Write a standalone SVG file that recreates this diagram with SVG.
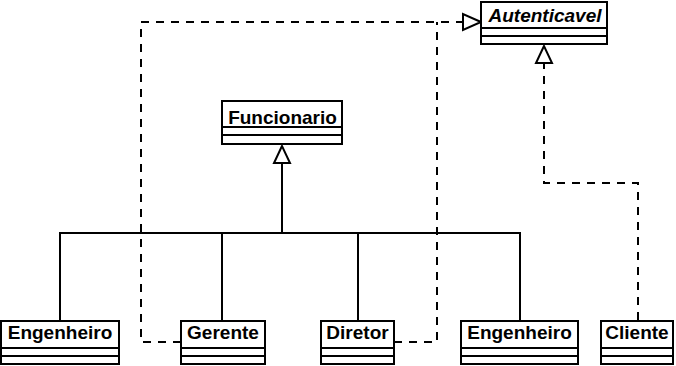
<svg xmlns="http://www.w3.org/2000/svg" width="676" height="366" viewBox="0 0 676 366">
  <style>
    .box { fill: #ffffff; stroke: #000000; stroke-width: 2; }
    .sep { stroke: #000000; stroke-width: 2; fill: none; }
    .lbl { font-family: "Liberation Sans", Arial, sans-serif; font-weight: bold; font-size: 19px; fill: #000000; text-anchor: middle; }
    .it { font-style: italic; }
    .gen { fill: none; stroke: #000000; stroke-width: 2; }
    .real { fill: none; stroke: #000000; stroke-width: 2; stroke-dasharray: 8 7; }
    .head { fill: #ffffff; stroke: #000000; stroke-width: 2; stroke-linejoin: miter; }
  </style>
  <rect width="676" height="366" fill="#ffffff"/>

  <!-- connectors -->
  <g id="connectors">
    <!-- generalization to Funcionario -->
    <polyline class="gen" points="60,320 60,233 520,233 520,320"/>
    <line class="gen" x1="222" y1="233" x2="222" y2="320"/>
    <line class="gen" x1="358" y1="233" x2="358" y2="320"/>
    <line class="gen" x1="282" y1="233" x2="282" y2="163"/>
    <polygon class="head" points="282,146 274,163 290,163"/>

    <!-- realizations of Autenticavel -->
    <polyline class="real" points="181,342 141,342 141,22 463,22"/>
    <polyline class="real" points="394,342 437,342 437,22"/>
    <polygon class="head" points="481,22 463,14 463,30"/>
    <polyline class="real" points="638,320 638,183 544,183 544,63"/>
    <polygon class="head" points="544,46 536,63 552,63"/>
  </g>

  <!-- Autenticavel (interface) -->
  <g id="autenticavel">
    <rect class="box" x="481" y="2" width="126" height="42"/>
    <line class="sep" x1="481" y1="28" x2="607" y2="28"/>
    <line class="sep" x1="481" y1="36" x2="607" y2="36"/>
    <text class="lbl it" x="545" y="22">Autenticavel</text>
  </g>

  <!-- Funcionario -->
  <g id="funcionario">
    <rect class="box" x="222" y="101" width="120" height="43"/>
    <line class="sep" x1="222" y1="127" x2="342" y2="127"/>
    <line class="sep" x1="222" y1="135" x2="342" y2="135"/>
    <text class="lbl" x="282.5" y="124">Funcionario</text>
  </g>

  <!-- Engenheiro (left) -->
  <g id="engenheiro1">
    <rect class="box" x="1" y="321" width="118" height="43"/>
    <line class="sep" x1="1" y1="348" x2="119" y2="348"/>
    <line class="sep" x1="1" y1="356" x2="119" y2="356"/>
    <text class="lbl" x="60" y="339">Engenheiro</text>
  </g>

  <!-- Gerente -->
  <g id="gerente">
    <rect class="box" x="181" y="321" width="84" height="43"/>
    <line class="sep" x1="181" y1="348" x2="265" y2="348"/>
    <line class="sep" x1="181" y1="356" x2="265" y2="356"/>
    <text class="lbl" x="223" y="339">Gerente</text>
  </g>

  <!-- Diretor -->
  <g id="diretor">
    <rect class="box" x="321" y="321" width="73" height="43"/>
    <line class="sep" x1="321" y1="348" x2="394" y2="348"/>
    <line class="sep" x1="321" y1="356" x2="394" y2="356"/>
    <text class="lbl" x="357.5" y="339">Diretor</text>
  </g>

  <!-- Engenheiro (right) -->
  <g id="engenheiro2">
    <rect class="box" x="461" y="321" width="117" height="43"/>
    <line class="sep" x1="461" y1="348" x2="578" y2="348"/>
    <line class="sep" x1="461" y1="356" x2="578" y2="356"/>
    <text class="lbl" x="519.5" y="339">Engenheiro</text>
  </g>

  <!-- Cliente -->
  <g id="cliente">
    <rect class="box" x="601" y="321" width="72" height="43"/>
    <line class="sep" x1="601" y1="348" x2="673" y2="348"/>
    <line class="sep" x1="601" y1="356" x2="673" y2="356"/>
    <text class="lbl" x="637" y="339">Cliente</text>
  </g>
</svg>
